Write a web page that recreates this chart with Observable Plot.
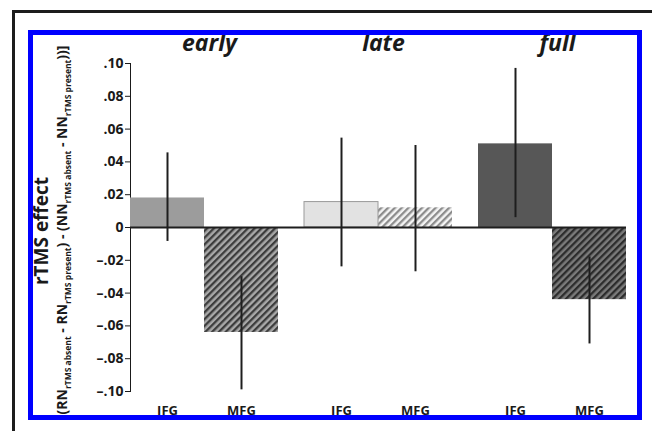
<!DOCTYPE html>
<html>
<head>
<meta charset="utf-8">
<script src="https://cdn.jsdelivr.net/npm/d3@7"></script>
<script src="https://cdn.jsdelivr.net/npm/@observablehq/plot@0.6"></script>
<style>
  html, body { margin: 0; padding: 0; background: #fff; }
  #wrap { position: relative; width: 652px; height: 431px; overflow: hidden; }
  #wrap svg { position: absolute; left: 0; top: 0; }
  .blackframe { position: absolute; left: 12px; top: 10px; width: 700px; height: 500px;
    border-top: 3px solid #1c1c1c; border-left: 3px solid #1c1c1c; pointer-events: none; }
  .blueframe { position: absolute; left: 28px; top: 30px; width: 604px; height: 380px;
    border: 5px solid #0000ff; pointer-events: none; }
  g[aria-label="fx-axis tick label"] { font-size: 23px; font-style: italic; font-weight: bold; }
  g[aria-label="x-axis tick label"] { font-size: 13px; font-weight: bold; }
  g[aria-label="y-axis tick label"] { font-size: 14px; font-weight: bold; }
</style>
</head>
<body>
<div id="wrap">
  <div class="blackframe"></div>
</div>
<script>
// ---- data ----
const groups = ["early", "late", "full"];
const regions = ["IFG", "MFG"];
const effectIFG = [0.018, 0.0155, 0.051];
const effectMFG = [-0.064, 0.012, -0.044];
const errLowIFG = [-0.0085, -0.024, 0.006];
const errHighIFG = [0.0455, 0.0545, 0.097];
const errLowMFG = [-0.099, -0.027, -0.071];
const errHighMFG = [-0.030, 0.050, -0.018];
const yTicks = [0.10, 0.08, 0.06, 0.04, 0.02, 0, -0.02, -0.04, -0.06, -0.08, -0.10];
const yTickLabels = [".10", ".08", ".06", ".04", ".02", "0", "–.02", "–.04", "–.06", "–.08", "–.10"];

// ---- styles (kept separate from data) ----
const barKeys = ["early IFG", "early MFG", "late IFG", "late MFG", "full IFG", "full MFG"];
const barFills = ["#9c9c9c", "url(#hatchEarly)", "#e2e2e2", "url(#hatchLate)", "#575757", "url(#hatchFull)"];

const rows = [];
groups.forEach((g, i) => {
  rows.push({group: g, region: "IFG", key: g + " IFG", value: effectIFG[i], lo: errLowIFG[i], hi: errHighIFG[i]});
  rows.push({group: g, region: "MFG", key: g + " MFG", value: effectMFG[i], lo: errLowMFG[i], hi: errHighMFG[i]});
});

const font = "'Open Sans', 'DejaVu Sans', sans-serif";

function build(zeroRule) {
  return Plot.plot({
    width: 652,
    height: 431,
    marginLeft: 117,
    marginRight: 14,
    marginTop: 63,
    marginBottom: 40,
    style: {fontFamily: font, color: "#1a1a1a", background: "transparent"},
    fx: {domain: groups, paddingInner: 0.15, paddingOuter: 0.065, label: null},
    x: {domain: regions, padding: 0, label: null},
    y: {domain: [-0.10, 0.10], ticks: yTicks, tickFormat: (d) => yTickLabels[yTicks.findIndex(t => Math.abs(t - d) < 1e-9)], tickSize: 5, tickPadding: 2, line: true, label: null},
    color: {type: "ordinal", domain: barKeys, range: barFills},
    marks: [
      Plot.axisFx({anchor: "top", tickSize: 0, tickPadding: 13, dx: 5, label: null}),
      Plot.axisX({anchor: "bottom", tickSize: 0, tickPadding: 14, label: null}),
      Plot.barY(rows, {fx: "group", x: "region", y: "value", fill: "key"}),
      Plot.barY(rows.filter(d => d.key === "late IFG"), {fx: "group", x: "region", y: "value", fill: "none", stroke: "#9a9a9a", strokeWidth: 1}),
      zeroRule,
      Plot.ruleX(rows, {fx: "group", x: "region", y1: "lo", y2: "hi", stroke: "#1e1e1e", strokeWidth: 2})
    ]
  });
}

let chart;
try {
  // y domain is symmetric, so the frame's vertical middle is y = 0
  chart = build(Plot.ruleY([0], {y: null, facet: "super", stroke: "#1e1e1e", strokeWidth: 2}));
} catch (e) {
  chart = build(Plot.ruleY([0], {stroke: "#1e1e1e", strokeWidth: 2, insetLeft: -14, insetRight: -14}));
}

// hatch patterns
const svg = d3.select(chart);
const defs = svg.insert("defs", ":first-child");
function hatch(id, bg, fg) {
  const p = defs.append("pattern").attr("id", id).attr("patternUnits", "userSpaceOnUse")
    .attr("width", 4.8).attr("height", 4.8).attr("patternTransform", "rotate(45)");
  p.append("rect").attr("width", 4.8).attr("height", 4.8).attr("fill", bg);
  p.append("rect").attr("width", 2.3).attr("height", 4.8).attr("fill", fg);
}
hatch("hatchEarly", "#a8a8a8", "#3c3c3c");
hatch("hatchLate", "#f4f4f4", "#8c8c8c");
hatch("hatchFull", "#7a7a7a", "#2c2c2c");

// y-axis titles
svg.append("text")
  .attr("transform", "translate(48,231) rotate(-90)")
  .attr("text-anchor", "middle")
  .attr("font-family", font).attr("font-weight", "bold").attr("font-size", 19)
  .attr("fill", "#1a1a1a")
  .text("rTMS effect");

const t2 = svg.append("text")
  .attr("transform", "translate(67,230) rotate(-90)")
  .attr("text-anchor", "middle")
  .attr("font-family", font).attr("font-weight", "bold").attr("font-size", 14)
  .attr("fill", "#1a1a1a");
const parts = [
  ["(RN", false], ["rTMS absent", true], [" - RN", false], ["rTMS present", true],
  [") - (NN", false], ["rTMS absent", true], [" - NN", false], ["rTMS present", true], ["))]", false]
];
parts.forEach(([s, sub], i) => {
  const ts = t2.append("tspan").text(s);
  const prevSub = i > 0 && parts[i - 1][1];
  if (sub) ts.attr("font-size", 8.5).attr("dy", 4);
  else if (prevSub) ts.attr("dy", -4);
});

document.getElementById("wrap").appendChild(chart);
const bf = document.createElement("div");
bf.className = "blueframe";
document.getElementById("wrap").appendChild(bf);
</script>
</body>
</html>
